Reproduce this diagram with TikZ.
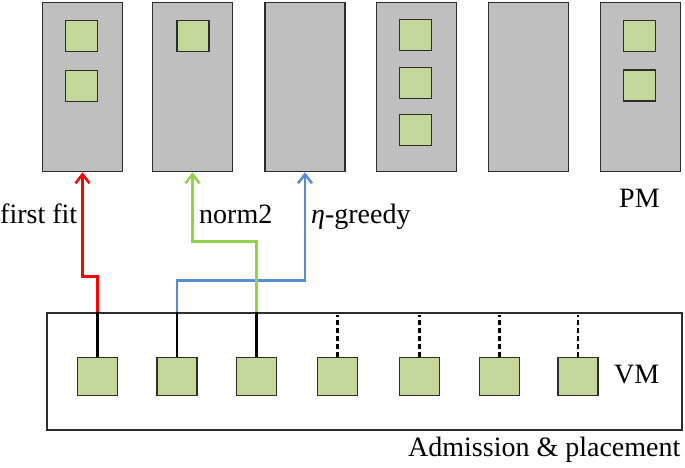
\documentclass[tikz,border=0pt]{standalone}
\usepackage{fontspec}
\setmainfont{Liberation Serif}
\usetikzlibrary{arrows.meta}
\definecolor{pmgray}{RGB}{191,191,191}
\definecolor{vmgreen}{RGB}{196,215,155}
\definecolor{edgegray}{RGB}{45,45,45}
\definecolor{lred}{RGB}{255,0,0}
\definecolor{lgreen}{RGB}{146,208,80}
\definecolor{lblue}{RGB}{85,142,213}
\tikzset{
  pmbox/.style={draw=edgegray,fill=pmgray,line width=1.5pt,minimum width=80pt,minimum height=169pt,inner sep=0pt},
  pmvm/.style={draw=edgegray,fill=vmgreen,line width=1.5pt,minimum width=32pt,minimum height=31pt,inner sep=0pt},
  vmsq/.style={draw=edgegray,fill=vmgreen,line width=1.5pt,minimum width=40pt,minimum height=38pt,inner sep=0pt},
  outer/.style={draw=edgegray,line width=1.2pt,minimum width=635pt,minimum height=117pt,inner sep=0pt},
  link/.style={line width=2.5pt,black},
  dlink/.style={line width=2.5pt,black,dash pattern=on 5pt off 3pt},
  algo/.style={line width=2.5pt,-{Straight Barb[length=9pt,width=14pt,line width=2.5pt]}},
  lbl/.style={font=\fontsize{28}{30}\selectfont,inner sep=0pt,anchor=base west}
}
\begin{document}
\begin{tikzpicture}[x=1pt,y=-1pt]
\useasboundingbox (0,0) rectangle (685,467);
% PMs
\node[pmbox] (pm1) at (82.5,87) {};
\node[pmbox] (pm2) at (192.5,87) {};
\node[pmbox] (pm3) at (305,87) {};
\node[pmbox] (pm4) at (416.5,87) {};
\node[pmbox] (pm5) at (528.5,87) {};
\node[pmbox] (pm6) at (640.5,87) {};
% VMs inside PMs
\node[pmvm] (a1) at (81.5,36) {};
\node[pmvm] (a2) at (81.5,86) {};
\node[pmvm] (b1) at (193,36) {};
\node[pmvm] (d1) at (415.5,35) {};
\node[pmvm] (d2) at (415.5,83) {};
\node[pmvm] (d3) at (415.5,130) {};
\node[pmvm] (f1) at (639.5,36) {};
\node[pmvm] (f2) at (639.5,85.5) {};
% admission box
\node[outer] (adm) at (364.5,371.5) {};
% VMs
\node[vmsq] (v1) at (97.5,376.5) {};
\node[vmsq] (v2) at (177,376.5) {};
\node[vmsq] (v3) at (256.5,376.5) {};
\node[vmsq] (v4) at (337.5,376.5) {};
\node[vmsq] (v5) at (419.5,376.5) {};
\node[vmsq] (v6) at (499.5,376.5) {};
\node[vmsq] (v7) at (578,376.5) {};
% links
\coordinate (t1) at (v1.north |- adm.north);
\coordinate (t2) at (v2.north |- adm.north);
\coordinate (t3) at (v3.north |- adm.north);
\draw[link] (v1.north) -- (t1);
\draw[link] (v2.north) -- (t2);
\draw[link] (v3.north) -- (t3);
\foreach \v in {v4,v5,v6,v7}{
  \draw[dlink] (\v.north) -- ([yshift=-3pt]\v.north |- adm.north);
}
% algorithm paths
\draw[algo,lred] (t1) -- ++(0,-36) -| (pm1.south);
\draw[algo,lblue] (t2) -- ++(0,-32) -| (pm3.south);
\draw[algo,lgreen] (t3) -- ++(0,-71) -| (pm2.south);
% labels
\node[lbl] (l1) at (0,223) {first fit};
\node[lbl] (l2) at (199,223) {norm2};
\node[lbl] (l3) at (311,223) {\textit{η}-greedy};
\node[lbl] (l4) at (619,207) {PM};
\node[lbl] (l5) at (614,383) {VM};
\node[lbl] (l6) at (408,456) {Admission \& placement};
\end{tikzpicture}
\end{document}
